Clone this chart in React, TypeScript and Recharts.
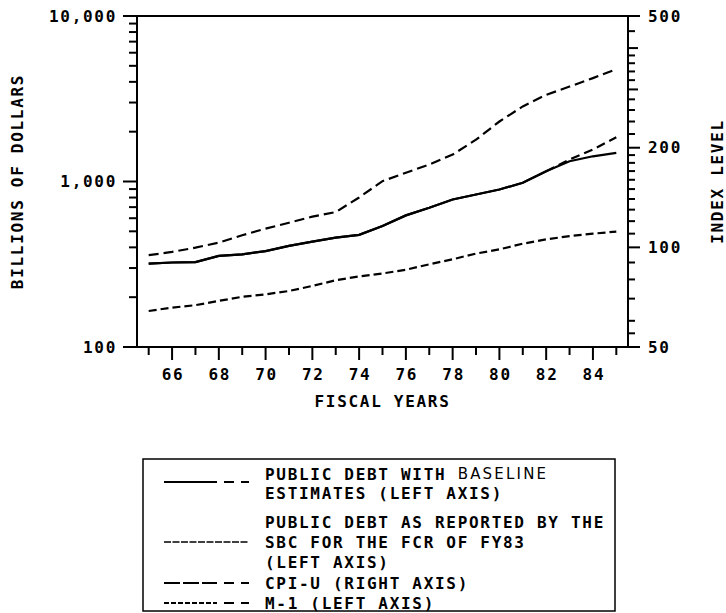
import React from "react";
import { LineChart, Line, XAxis, YAxis, ReferenceLine } from "recharts";

// fiscal years 1965-1985
const years = [65, 66, 67, 68, 69, 70, 71, 72, 73, 74, 75, 76, 77, 78, 79, 80, 81, 82, 83, 84, 85];

// billions of dollars (left axis)
const sbcDebt = [319, 324, 326, 355, 363, 380, 408, 433, 458, 476, 538, 624, 694, 779, 835, 895, 982, 1153, 1325, 1420, 1489];
const baselineDebt = [319, 324, 326, 355, 363, 380, 408, 433, 458, 476, 538, 624, 694, 779, 835, 895, 982, 1153, 1357, 1559, 1849];
const m1 = [165, 173, 179, 190, 201, 208, 218, 234, 253, 267, 278, 293, 316, 339, 367, 389, 421, 447, 468, 484, 498];

// index level (right axis)
const cpiU = [94.7, 96.9, 99.8, 103.4, 108.8, 113.9, 118.7, 123.8, 127.8, 141.5, 158.5, 168, 178, 190.6, 211.5, 240, 266.6, 289, 306, 324.6, 345.5];

// baseline estimates start after this year
const lastActualYear = 82;

const leftTicks = [100, 200, 300, 400, 500, 600, 700, 800, 900, 1000, 2000, 3000, 4000, 5000, 6000, 7000, 8000, 9000, 10000];
const leftLabels: Record<number, string> = { 100: "100", 1000: "1,000", 10000: "10,000" };

const rightTicks = [50, 55, 60, 70, 80, 90, 100, 110, 120, 130, 140, 150, 160, 170, 180, 190, 200, 220, 240, 260, 280, 300, 320, 340, 360, 380, 400, 450, 500];
const rightLabels: Record<number, string> = { 50: "50", 100: "100", 200: "200", 500: "500" };

const legendLabels = [
  ["PUBLIC DEBT WITH ", "ESTIMATES (LEFT AXIS)"],
  ["PUBLIC DEBT AS REPORTED BY THE", "SBC FOR THE FCR OF FY83", "(LEFT AXIS)"],
  ["CPI-U (RIGHT AXIS)"],
  ["M-1 (LEFT AXIS)"],
];

const data = years.map((year, i) => ({
  year,
  sbc: sbcDebt[i],
  baseActual: year <= lastActualYear ? baselineDebt[i] : null,
  baseEst: year >= lastActualYear ? baselineDebt[i] : null,
  cpi: cpiU[i],
  m1: m1[i],
}));

const FONT = "'DejaVu Sans Mono', monospace";
const textStyle = { fontFamily: FONT, fontWeight: 700, fontSize: 16, letterSpacing: 1.7, fill: "#000" };

const LeftTick = ({ x, y, payload }: any) => {
  const label = leftLabels[payload.value];
  return (
    <g>
      <line x1={x} x2={x - (label ? 14 : 8)} y1={y} y2={y} stroke="#000" strokeWidth={2} />
      {label && (
        <text x={x - 20} y={y} textAnchor="end" dominantBaseline="central" style={textStyle}>
          {label}
        </text>
      )}
    </g>
  );
};

const RightTick = ({ x, y, payload }: any) => {
  const v = payload.value;
  const label = rightLabels[v];
  const len = label ? 12 : v === 300 || v === 400 ? 10 : 7;
  return (
    <g>
      <line x1={x} x2={x + len} y1={y} y2={y} stroke="#000" strokeWidth={2} />
      {label && (
        <text x={x + 20} y={y} textAnchor="start" dominantBaseline="central" style={textStyle}>
          {label}
        </text>
      )}
    </g>
  );
};

const YearTick = ({ x, y, payload }: any) => {
  const even = payload.value % 2 === 0;
  return (
    <g>
      <line x1={x} x2={x} y1={y} y2={y + (even ? 13 : 8)} stroke="#000" strokeWidth={2} />
      {even && (
        <text x={x + 1} y={y + 27} textAnchor="middle" dominantBaseline="central" style={textStyle}>
          {payload.value}
        </text>
      )}
    </g>
  );
};

const lineProps = {
  type: "linear" as const,
  stroke: "#000",
  strokeWidth: 2.2,
  dot: false,
  isAnimationActive: false,
};

// little line samples drawn in the key
const Sample = ({ y, kind }: { y: number; kind: string }) => {
  const x0 = 22;
  const x1 = 75;
  const tail = (
    <g stroke="#000" strokeWidth={2}>
      <line x1={x1 + 7} x2={x1 + 17} y1={y} y2={y} />
      <line x1={x1 + 24} x2={x1 + 32} y1={y} y2={y} />
    </g>
  );
  if (kind === "sbc") {
    return <line x1={x0} x2={x1 + 32} y1={y} y2={y} stroke="#000" strokeWidth={1.6} strokeDasharray="7 1.5" />;
  }
  const dash = kind === "cpi" ? "16 3" : kind === "m1" ? "5 2" : undefined;
  return (
    <g>
      <line x1={x0} x2={x1} y1={y} y2={y} stroke="#000" strokeWidth={2} strokeDasharray={dash} />
      {tail}
    </g>
  );
};

const Key = () => {
  const rowY = [16, 35, 64, 84, 104, 125, 145];
  const tx = 123;
  return (
    <svg width={474} height={155} style={{ position: "absolute", left: 142, top: 458 }}>
      <rect x={1} y={1} width={472} height={152} fill="#fff" stroke="#000" strokeWidth={1.5} />
      <Sample y={rowY[0] + 8} kind="base" />
      <Sample y={rowY[3]} kind="sbc" />
      <Sample y={rowY[5]} kind="cpi" />
      <Sample y={rowY[6]} kind="m1" />
      <g style={textStyle}>
        <text x={tx} y={rowY[0]} dominantBaseline="central">
          {legendLabels[0][0]}
          <tspan style={{ fontFamily: "'DejaVu Sans', sans-serif", fontWeight: 400, fontSize: 15, letterSpacing: 2.2 }}>BASELINE</tspan>
        </text>
        <text x={tx} y={rowY[1]} dominantBaseline="central">{legendLabels[0][1]}</text>
        <text x={tx} y={rowY[2]} dominantBaseline="central">{legendLabels[1][0]}</text>
        <text x={tx} y={rowY[3]} dominantBaseline="central">{legendLabels[1][1]}</text>
        <text x={tx} y={rowY[4]} dominantBaseline="central">{legendLabels[1][2]}</text>
        <text x={tx} y={rowY[5]} dominantBaseline="central">{legendLabels[2][0]}</text>
        <text x={tx} y={rowY[6]} dominantBaseline="central">{legendLabels[3][0]}</text>
      </g>
    </svg>
  );
};

export default function App() {
  return (
    <div style={{ position: "absolute", left: 0, top: 0, width: 726, height: 613, background: "#fff" }}>
      <LineChart width={726} height={420} data={data} margin={{ top: 16, right: 0, bottom: 13, left: 0 }}>
        <XAxis
          dataKey="year"
          type="number"
          domain={[64.5, 85.5]}
          ticks={years}
          interval={0}
          tickSize={0}
          tickMargin={0}
          height={60}
          axisLine={{ stroke: "#000", strokeWidth: 2 }}
          tickLine={false}
          tick={<YearTick />}
          label={({ viewBox }: any) => (
            <text x={viewBox.x + viewBox.width / 2} y={viewBox.y + 54} textAnchor="middle" dominantBaseline="central" style={textStyle}>
              FISCAL YEARS
            </text>
          )}
        />
        <YAxis
          yAxisId="left"
          scale="log"
          domain={[100, 10000]}
          ticks={leftTicks}
          interval={0}
          allowDataOverflow
          width={137}
          tickSize={0}
          tickMargin={0}
          axisLine={{ stroke: "#000", strokeWidth: 2 }}
          tickLine={false}
          tick={<LeftTick />}
          label={({ viewBox }: any) => (
            <text
              x={17}
              y={viewBox.y + viewBox.height / 2}
              textAnchor="middle"
              dominantBaseline="central"
              transform={`rotate(-90 17 ${viewBox.y + viewBox.height / 2})`}
              style={textStyle}
            >
              BILLIONS OF DOLLARS
            </text>
          )}
        />
        <YAxis
          yAxisId="right"
          orientation="right"
          scale="log"
          domain={[50, 500]}
          ticks={rightTicks}
          interval={0}
          allowDataOverflow
          width={98}
          tickSize={0}
          tickMargin={0}
          axisLine={{ stroke: "#000", strokeWidth: 2 }}
          tickLine={false}
          tick={<RightTick />}
          label={({ viewBox }: any) => (
            <text
              x={717}
              y={viewBox.y + viewBox.height / 2}
              textAnchor="middle"
              dominantBaseline="central"
              transform={`rotate(-90 717 ${viewBox.y + viewBox.height / 2})`}
              style={textStyle}
            >
              INDEX LEVEL
            </text>
          )}
        />
        <ReferenceLine yAxisId="left" y={10000} stroke="#000" strokeWidth={2} />

        <Line yAxisId="right" dataKey="cpi" {...lineProps} strokeDasharray="10 5" />
        <Line yAxisId="left" dataKey="m1" {...lineProps} strokeDasharray="8 4" />
        <Line yAxisId="left" dataKey="sbc" {...lineProps} />
        <Line yAxisId="left" dataKey="baseActual" {...lineProps} />
        <Line yAxisId="left" dataKey="baseEst" {...lineProps} strokeDasharray="9 5" />
      </LineChart>
      <Key />
    </div>
  );
}
